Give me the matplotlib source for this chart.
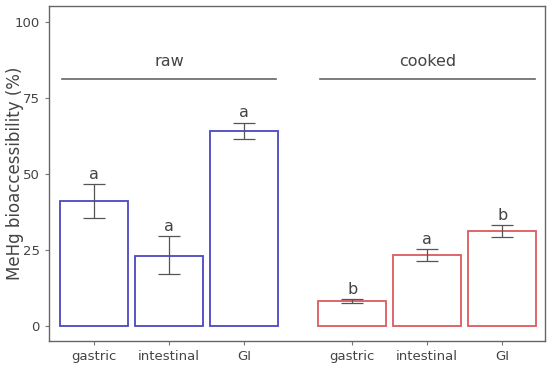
import numpy as np
import matplotlib
matplotlib.use("Agg")
import matplotlib.pyplot as plt

# data
phases = ["gastric", "intestinal", "GI"]
raw_mean = [41.0, 23.0, 64.2]
raw_lo = [35.5, 17.1, 61.5]
raw_hi = [46.7, 29.6, 66.8]
raw_letters = ["a", "a", "a"]
cooked_mean = [8.1, 23.2, 31.2]
cooked_lo = [7.6, 21.3, 29.3]
cooked_hi = [8.7, 25.2, 33.2]
cooked_letters = ["b", "a", "b"]
groups = ["raw", "cooked"]

BLUE, RED, GREY = "#4b48c0", "#dc5a5f", "#444444"

fig = plt.figure(figsize=(5.5, 3.66), dpi=100)
ax = fig.add_axes([0.089, 0.068, 0.902, 0.916])

xr = np.array([1.0, 2.0, 3.0])
xc = xr + 3.44
for x, m, lo, hi, let, col in [(xr, raw_mean, raw_lo, raw_hi, raw_letters, BLUE),
                               (xc, cooked_mean, cooked_lo, cooked_hi, cooked_letters, RED)]:
    ax.bar(x, m, width=0.9, facecolor="white", edgecolor=col, linewidth=1.3)
    m, lo, hi = map(np.array, (m, lo, hi))
    ax.errorbar(x, m, yerr=[m - lo, hi - m], fmt="none", ecolor="#555555",
                elinewidth=0.9, capsize=8, capthick=0.9)
    for xi, h, t in zip(x, hi, let):
        ax.text(xi, h + 0.8, t, ha="center", va="bottom", fontsize=11.5, color=GREY)

for xs, g in [(xr, groups[0]), (xc, groups[1])]:
    ax.plot([xs[0] - 0.43, xs[-1] + 0.43], [81.3, 81.3], color="#666666", lw=1.2)
    ax.text(xs[1], 84.5, g, ha="center", va="bottom", fontsize=11.5, color=GREY)

ax.set_xticks(np.concatenate([xr, xc]))
ax.set_xticklabels(phases + phases)
ax.set_yticks([0, 25, 50, 75, 100])
ax.set_xlim(0.4, 7.01)
ax.set_ylim(-5, 105.3)
ax.set_ylabel("MeHg bioaccessibility (%)", fontsize=12, color=GREY)
ax.yaxis.set_label_coords(-0.05, 0.5)
ax.tick_params(colors="#777777", labelcolor=GREY, labelsize=9.5, length=3)
for s in ax.spines.values():
    s.set_color("#666666")
    s.set_linewidth(1.0)

fig.savefig("out.png", dpi=100)
